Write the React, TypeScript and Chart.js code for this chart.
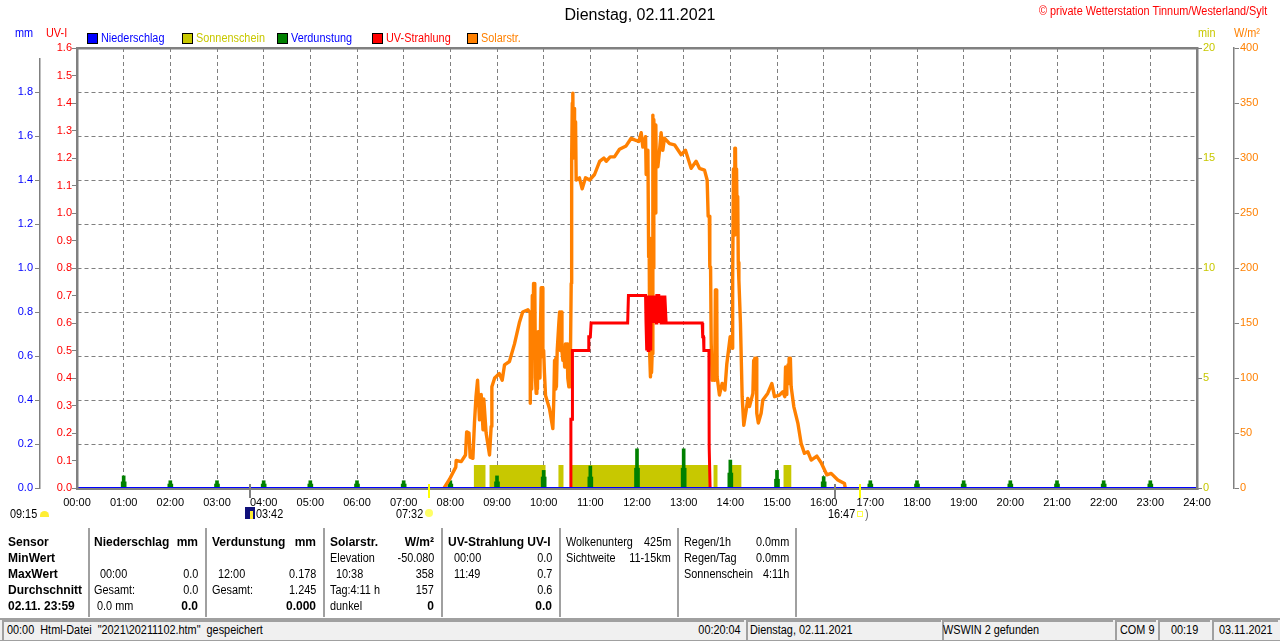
import React, { useEffect, useRef } from "react";
import { Chart, registerables } from "chart.js";

Chart.register(...registerables);

const hourLabels = ["00:00","01:00","02:00","03:00","04:00","05:00","06:00","07:00","08:00","09:00","10:00","11:00","12:00","13:00","14:00","15:00","16:00","17:00","18:00","19:00","20:00","21:00","22:00","23:00","24:00"];

// [minute of day, W/m²]
const solarMorning = [[472,0],[479,8],[487,19],[487.5,25],[494,24],[499.5,30],[501,51],[504,50],[505.5,28],[509,27],[511,59],[513,83],[515,98],[517.5,62],[519.7,85],[522,53],[523,81],[526,50],[530.4,30],[532.5,56],[533.4,92],[537,100],[543,104],[546.7,98],[549.7,112],[556,115],[562.5,131],[569,151],[573,160],[579.7,162],[582.7,159]];
const solarTenOClock = [[582.8,77],[583.8,160],[584.6,90],[585.4,175],[586.2,120],[587,186],[587.8,130],[588.6,186],[589.4,100],[590.4,86],[591.2,140],[592,90],[592.8,142],[593.6,100],[594.4,130],[595.2,100],[596,150],[596.8,182],[597.6,130],[598.4,182],[599,119],[600,125],[601,105],[602.4,84],[607.5,72],[611.8,54],[613,80],[614,116],[614.8,90],[615.6,118],[616.4,92],[617.4,125],[618.4,125],[619.5,150],[620.5,160],[621.5,125],[622.5,160],[623.5,125],[624.7,116],[626,125],[627,110],[628,131],[629,115],[630,131],[631,100],[632.4,92],[633,110],[634,92]];
const solarMidday = [[635.4,186],[636,300],[636.8,350],[637.5,359],[638.3,300],[639,345],[639.7,301],[641,333],[641.8,280],[646,282],[649.5,272],[653.8,282],[659,280],[665.4,285],[672,297],[677.4,300],[680.4,297],[685.5,301],[691,301],[697.5,308],[706,311],[712.5,318],[717,316.5],[722.4,315],[725.4,323],[727.5,310],[731,319.4],[731.8,285],[734,307],[735,210],[735.6,227],[736.4,120],[737.3,101],[738,125],[738.7,105],[739.5,122],[740.4,339],[741,200],[741.6,335],[742.5,313],[743.4,250],[744.2,330],[744.7,295],[746.8,292],[749,307],[751,323],[753.2,307],[755.3,318],[761.8,313],[768.2,312],[776.8,303],[782.3,307],[789.6,290.6],[796,297],[800.3,290.6],[806.8,289],[810.2,280]];
const solarAfternoon = [[811,280],[811.5,247],[813,247],[813.6,201],[814.6,201],[815.4,131.5],[816.6,98],[818,110],[819,98],[820,110],[820.8,180],[821.4,101],[821.8,180],[822.5,175],[823,101],[826,84.5],[829.5,95],[833,89],[835.5,113],[839.8,137.5],[842.3,127],[843,190],[844,290],[845,230],[845.8,309],[846.6,309],[847.4,236],[848,290],[848.8,236],[849.5,265],[850.2,205],[851,189],[853,150],[855.2,83],[857.3,57],[860.4,71],[862.5,81.5],[864.6,74],[869,86],[870,116],[870.6,90],[871.4,118],[872,95],[873.2,118],[874,68],[876,59],[879.6,68],[881.8,80],[888,86],[893.4,95],[896.8,83],[903.2,84.5],[907.5,87.5],[910,83],[911,110],[911.8,85],[912.6,110],[913.4,95],[914.2,112],[915,95],[915.6,118],[916.5,95],[917.2,118],[918.2,92],[921.6,74],[926.8,59],[931,40.6],[935.3,31.5],[939.6,33],[944,25.4],[951.2,29],[956.8,23],[964,12],[969.6,13.3],[978.2,7.3],[986.8,4],[987.6,0.6]];

const uvMinutes = [634.5,635,636.5,637,657,658,660,661,708,709,731,731.6,732.2,732.8,733.6,734.4,735.2,736,736.8,737.6,738.4,739,739.6,740.3,741.4,742.5,743.6,744.7,745.5,748,749,750,751,752,753,754,755,755.8,757.5,803.8,804.5,805.5,806,812.5,812.8,813.8,814];
const uvIndex = [0,0.25,0.25,0.5,0.5,0.55,0.55,0.6,0.6,0.7,0.7,0.6,0.7,0.5,0.7,0.5,0.7,0.5,0.7,0.5,0.7,0.6,0.7,0.6,0.7,0.6,0.7,0.6,0.7,0.7,0.6,0.7,0.6,0.7,0.6,0.7,0.6,0.7,0.6,0.6,0.55,0.55,0.5,0.5,0.15,0.15,0];

const sunStart = [510,530.4,619,634.5,818.4,839,908.4];
const sunEnd = [525.2,602.4,625.5,813.2,823.5,854.2,918.7];
const sunMinutesPerMinute = 1.05;

const evapHours = [60,120,180,240,300,360,420,480,540,600,660,720,780,840,900,960,1020,1080,1140,1200,1260,1320,1380];
const evapPeak = [0.055,0.033,0.033,0.033,0.033,0.033,0.033,0.033,0.055,0.08,0.1,0.178,0.178,0.127,0.08,0.052,0.033,0.033,0.033,0.033,0.033,0.033,0.033];
const evapBase = [0.028,0.018,0.018,0.018,0.018,0.018,0.018,0.018,0.028,0.05,0.05,0.09,0.09,0.068,0.04,0.028,0.018,0.018,0.018,0.018,0.018,0.018,0.018];

const rainMinutes = [0,1440];
const rainMm = [0,0];

const sunEventMinutes = [222,452,975,1007];

const normal = '"Liberation Sans",Arial,sans-serif';
const GRAY = "#808080";

const zip = (xs: number[], ys: number[]) => xs.map((x, i) => ({ x, y: ys[i] }));
const solarPoints = [...solarMorning, ...solarTenOClock, ...solarMidday, ...solarAfternoon].map(([x, y]) => ({ x, y }));
const sunPoints = sunStart.flatMap((s, i) => [
  { x: s, y: 0 },
  { x: s, y: sunMinutesPerMinute },
  { x: sunEnd[i], y: sunMinutesPerMinute },
  { x: sunEnd[i], y: 0 },
]);

const framePlugin = {
  id: "frame",
  afterDatasetsDraw(chart: any) {
    const { ctx, chartArea: a, scales } = chart;
    ctx.save();
    ctx.fillStyle = GRAY;
    ctx.fillRect(a.left - 1, a.top - 1, a.right - a.left + 2, 2.5);
    ctx.fillRect(a.left - 1, a.top - 1, 2.5, a.bottom - a.top + 3);
    ctx.fillRect(a.right - 1, a.top - 1, 2.5, a.bottom - a.top + 3);
    ctx.fillRect(a.left - 1, a.bottom, a.right - a.left + 2.5, 2);
    ctx.fillStyle = "#fff";
    ctx.fillRect(38, a.top - 1, 6, 11);
    sunEventMinutes.forEach((m, i) => {
      ctx.fillStyle = i % 2 === 0 ? GRAY : "#ffff00";
      ctx.fillRect(Math.round(scales.x.getPixelForValue(m)) - 1, a.bottom - 4, 2, 14);
    });
    ctx.restore();
  },
};

const fit = (prop: "width" | "height", v: number) => (s: any) => { s[prop] = v; };
const tickFont = { family: normal, size: 11 };

function T({ x, r, y, b, c, children }: any) {
  const style: any = {
    position: "absolute",
    top: y - 8,
    height: 16,
    lineHeight: "16px",
    whiteSpace: "pre",
    fontFamily: normal,
    fontWeight: b ? 700 : 400,
    fontSize: b ? 12 : 12.5,
    color: c || "#000",
  };
  if (!b) {
    style.transform = "scaleX(0.87)";
    style.transformOrigin = r !== undefined ? "right center" : "left center";
  }
  if (r !== undefined) style.right = 1280 - r; else style.left = x;
  return <div style={style}>{children}</div>;
}

function Box({ x, y, w, h, bg, br, extra }: any) {
  return <div style={{ position: "absolute", left: x, top: y, width: w, height: h, background: bg, border: br, boxSizing: "border-box", ...extra }} />;
}

const legendItems = [
  { x: 87, box: "#0000ff", c: "#0000ff", t: "Niederschlag" },
  { x: 182, box: "#c8c800", c: "#c8c800", t: "Sonnenschein" },
  { x: 277, box: "#008000", c: "#0000ff", t: "Verdunstung" },
  { x: 372, box: "#ff0000", c: "#ff0000", t: "UV-Strahlung" },
  { x: 467, box: "#ff8000", c: "#ff8000", t: "Solarstr." },
];

const rowsY = [542, 558, 574, 590, 606];
const dividers = [88, 205, 323, 441, 559, 677, 795];
const statusPanels = [
  { x: 2, w: 742 },
  { x: 746, w: 195 },
  { x: 942, w: 171 },
  { x: 1115, w: 41 },
  { x: 1158, w: 52 },
  { x: 1212, w: 66 },
];

export default function App() {
  const ref = useRef<HTMLCanvasElement>(null);
  useEffect(() => {
    document.body.style.margin = "0";
    const chart = new Chart(ref.current!, {
      type: "line",
      data: {
        datasets: [
          { label: "Niederschlag", data: zip(rainMinutes, rainMm), yAxisID: "mm", borderColor: "#0000ff", borderWidth: 2, pointRadius: 0, order: 1 } as any,
          { label: "UV-Strahlung", data: zip(uvMinutes, uvIndex), yAxisID: "uv", borderColor: "#ff0000", borderWidth: 3, pointRadius: 0, borderJoinStyle: "miter", order: 2 } as any,
          { label: "Solarstr.", data: solarPoints, yAxisID: "watt", borderColor: "#ff8000", borderWidth: 3.4, pointRadius: 0, borderJoinStyle: "round", order: 3 } as any,
          { type: "bar", label: "Verdunstung", data: zip(evapHours, evapPeak), yAxisID: "mm", backgroundColor: "#008000", barThickness: 3, grouped: false, order: 4 } as any,
          { type: "bar", label: "Verdunstung Basis", data: zip(evapHours, evapBase), yAxisID: "mm", backgroundColor: "#008000", barThickness: 5, grouped: false, order: 5 } as any,
          { label: "Sonnenschein", data: sunPoints, yAxisID: "min", borderWidth: 0, borderColor: "#c8c800", backgroundColor: "#c8c800", fill: "origin", pointRadius: 0, order: 6 } as any,
        ],
      },
      options: {
        responsive: false,
        animation: false,
        layout: { padding: 0 },
        plugins: {
          legend: { display: false },
          tooltip: { enabled: false },
          title: {
            display: true,
            text: "Dienstag, 02.11.2021",
            color: "#000",
            font: { family: normal, size: 16, weight: "normal", lineHeight: 1.25 },
            padding: { top: 6, bottom: 22 },
          } as any,
        },
        scales: {
          x: {
            type: "linear", min: 0, max: 1440, offset: false,
            afterFit: fit("height", 153),
            afterBuildTicks: (s: any) => { s.ticks = hourLabels.map((_, i) => ({ value: i * 60 })); },
            ticks: { stepSize: 60, autoSkip: false, maxRotation: 0, color: "#000", font: tickFont, padding: 8, callback: (_: any, i: number) => hourLabels[i] },
            grid: { color: GRAY, drawTicks: false, offset: false, tickLength: 0 },
            border: { display: false, dash: [4, 3] },
          } as any,
          watt: {
            position: "right", min: 0, max: 400, weight: 1,
            afterFit: fit("width", 46),
            ticks: { stepSize: 50, color: "#ff8000", font: tickFont, padding: 1 },
            grid: { drawOnChartArea: false, tickColor: GRAY, tickLength: 5 },
            border: { display: true, color: GRAY, width: 1.5 },
          } as any,
          min: {
            position: "right", min: 0, max: 20, weight: 0,
            afterFit: fit("width", 37),
            ticks: { stepSize: 5, color: "#c8c800", font: tickFont, padding: 1 },
            grid: { drawOnChartArea: false, tickColor: GRAY, tickLength: 5 },
            border: { display: false },
          } as any,
          uv: {
            position: "left", min: 0, max: 1.6, weight: 0,
            afterFit: fit("width", 37),
            ticks: { stepSize: 0.1, color: "#ff0000", font: tickFont, padding: 0, callback: (v: any) => Number(v).toFixed(1) },
            grid: { drawOnChartArea: false, tickColor: GRAY, tickLength: 5 },
            border: { display: false },
          } as any,
          mm: {
            position: "left", min: 0, max: 2, weight: 1,
            afterFit: fit("width", 40),
            ticks: { stepSize: 0.2, color: "#0000ff", font: tickFont, padding: 2, callback: (v: any) => (Number(v) > 1.9 ? null : Number(v).toFixed(1)) },
            grid: { color: GRAY, drawOnChartArea: true, tickColor: GRAY, tickLength: 5 },
            border: { display: true, color: GRAY, width: 1.5, dash: [4, 3] },
          } as any,
        },
      },
      plugins: [framePlugin],
    } as any);
    return () => chart.destroy();
  }, []);

  return (
    <div style={{ position: "relative", width: 1280, height: 641, overflow: "hidden", background: "#fff" }}>
      <canvas ref={ref} width={1280} height={641} style={{ position: "absolute", left: 0, top: 0, display: "block" }} />

      <T x={1039} y={11} c="#ff0000">© private Wetterstation Tinnum/Westerland/Sylt</T>
      <T x={15} y={33} c="#0000ff">mm</T>
      <T x={46} y={33} c="#ff0000">UV-I</T>
      <T x={1198} y={33} c="#c8c800">min</T>
      <T x={1234} y={33} c="#ff8000">W/m²</T>
      {legendItems.map((l) => (
        <React.Fragment key={l.t}>
          <Box x={l.x} y={33} w={11} h={11} bg={l.box} br="1px solid #000" />
          <T x={l.x + 14} y={38} c={l.c}>{l.t}</T>
        </React.Fragment>
      ))}

      <T x={10} y={514}>09:15</T>
      <Box x={40} y={511} w={9} h={6} bg="#ffee33" extra={{ borderRadius: "5px 5px 0 0" }} />
      <Box x={245} y={507} w={10} h={12} bg="#10107a" />
      <Box x={250} y={511} w={3} h={8} bg="#ffee33" />
      <T x={256} y={514}>03:42</T>
      <T x={396} y={514}>07:32</T>
      <Box x={425} y={509} w={8} h={8} bg="#ffff66" extra={{ borderRadius: "50%" }} />
      <T x={828} y={514}>16:47</T>
      <Box x={857} y={511} w={6} h={6} br="1px solid #ffff44" />
      <T x={865} y={514} c="#666">)</T>

      {dividers.map((x) => <Box key={x} x={x} y={528} w={2} h={89} bg="#a0a0a0" />)}

      <T x={8} y={rowsY[0]} b>Sensor</T>
      <T x={8} y={rowsY[1]} b>MinWert</T>
      <T x={8} y={rowsY[2]} b>MaxWert</T>
      <T x={8} y={rowsY[3]} b>Durchschnitt</T>
      <T x={8} y={rowsY[4]} b>02.11. 23:59</T>

      <T x={94} y={rowsY[0]} b>Niederschlag</T>
      <T r={198} y={rowsY[0]} b>mm</T>
      <T x={100} y={rowsY[2]}>00:00</T>
      <T r={198} y={rowsY[2]}>0.0</T>
      <T x={94} y={rowsY[3]}>Gesamt:</T>
      <T r={198} y={rowsY[3]}>0.0</T>
      <T x={97} y={rowsY[4]}>0.0 mm</T>
      <T r={198} y={rowsY[4]} b>0.0</T>

      <T x={212} y={rowsY[0]} b>Verdunstung</T>
      <T r={316} y={rowsY[0]} b>mm</T>
      <T x={218} y={rowsY[2]}>12:00</T>
      <T r={316} y={rowsY[2]}>0.178</T>
      <T x={212} y={rowsY[3]}>Gesamt:</T>
      <T r={316} y={rowsY[3]}>1.245</T>
      <T r={316} y={rowsY[4]} b>0.000</T>

      <T x={330} y={rowsY[0]} b>Solarstr.</T>
      <T r={434} y={rowsY[0]} b>W/m²</T>
      <T x={330} y={rowsY[1]}>Elevation</T>
      <T r={434} y={rowsY[1]}>-50.080</T>
      <T x={336} y={rowsY[2]}>10:38</T>
      <T r={434} y={rowsY[2]}>358</T>
      <T x={330} y={rowsY[3]}>Tag:4:11 h</T>
      <T r={434} y={rowsY[3]}>157</T>
      <T x={330} y={rowsY[4]}>dunkel</T>
      <T r={434} y={rowsY[4]} b>0</T>

      <T x={448} y={rowsY[0]} b>UV-Strahlung UV-I</T>
      <T x={454} y={rowsY[1]}>00:00</T>
      <T r={552} y={rowsY[1]}>0.0</T>
      <T x={454} y={rowsY[2]}>11:49</T>
      <T r={552} y={rowsY[2]}>0.7</T>
      <T r={552} y={rowsY[3]}>0.6</T>
      <T r={552} y={rowsY[4]} b>0.0</T>

      <T x={566} y={rowsY[0]}>Wolkenunterg</T>
      <T r={671} y={rowsY[0]}>425m</T>
      <T x={566} y={rowsY[1]}>Sichtweite</T>
      <T r={671} y={rowsY[1]}>11-15km</T>

      <T x={684} y={rowsY[0]}>Regen/1h</T>
      <T r={789} y={rowsY[0]}>0.0mm</T>
      <T x={684} y={rowsY[1]}>Regen/Tag</T>
      <T r={789} y={rowsY[1]}>0.0mm</T>
      <T x={684} y={rowsY[2]}>Sonnenschein</T>
      <T r={789} y={rowsY[2]}>4:11h</T>

      <Box x={0} y={618} w={1280} h={23} bg="#f0f0f0" extra={{ borderTop: "2px solid #a0a0a0", borderBottom: "1px solid #a0a0a0" }} />
      {statusPanels.map((p) => (
        <Box key={p.x} x={p.x} y={620} w={p.w} h={20} extra={{ borderTop: "2px solid #a0a0a0", borderLeft: "2px solid #a0a0a0" }} />
      ))}
      <T x={7} y={630}>{'00:00  Html-Datei  "2021\\20211102.htm"  gespeichert'}</T>
      <T r={741} y={630}>00:20:04</T>
      <T x={750} y={630}>Dienstag, 02.11.2021</T>
      <T x={943} y={630}>WSWIN 2 gefunden</T>
      <T x={1120} y={630}>COM 9</T>
      <T x={1171} y={630}>00:19</T>
      <T x={1219} y={630}>03.11.2021</T>
    </div>
  );
}
